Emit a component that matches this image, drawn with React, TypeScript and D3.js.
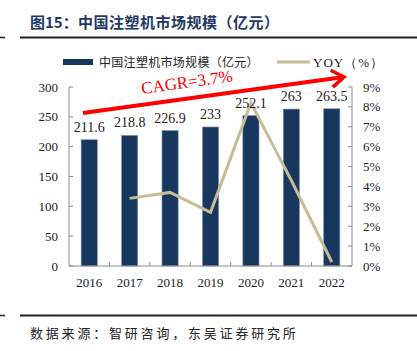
import React from 'react';
import * as d3 from 'd3';

// 数据
const years = ['2016', '2017', '2018', '2019', '2020', '2021', '2022'];
const marketSize = [211.6, 218.8, 226.9, 233, 252.1, 263, 263.5];
const yoy: (number | null)[] = [null, 3.4, 3.7, 2.7, 8.2, 4.3, 0.2];
const leftTicks = [0, 50, 100, 150, 200, 250, 300];
const rightTicks = [0, 1, 2, 3, 4, 5, 6, 7, 8, 9];

const titleHead = '图15：';
const title = '中国注塑机市场规模（亿元）';
const barLegend = '中国注塑机市场规模（亿元）';
const lineLegend = 'YOY（%）';
const cagrText = 'CAGR=3.7%';
const source = '数据来源：智研咨询，东吴证券研究所';

const width = 417;
const height = 351;
const margin = { top: 87, right: 65, bottom: 85, left: 69 };

const serif = '"Liberation Serif", "DejaVu Serif", serif';
const cjk = '"Noto Sans CJK SC", sans-serif';
const barColor = '#17375E';
const lineColor = '#C6BC96';
const axisColor = '#8c8c8c';

const App = () => {
    const x0 = margin.left;
    const x1 = width - margin.right;
    const yTop = margin.top;
    const yBottom = height - margin.bottom;

    const xScale = d3.scaleBand<string>()
        .domain(years)
        .range([x0, x1])
        .paddingInner(0.6)
        .paddingOuter(0.3);
    const yLeft = d3.scaleLinear().domain([0, 300]).range([yBottom, yTop]);
    const yRight = d3.scaleLinear().domain([0, 9]).range([yBottom, yTop]);

    const center = (d: string) => (xScale(d) as number) + xScale.bandwidth() / 2;

    const linePts = years
        .map((d, i) => ({ d, v: yoy[i] }))
        .filter(p => p.v !== null);
    const lineGen = d3.line<{ d: string; v: number | null }>()
        .x(p => center(p.d))
        .y(p => yRight(p.v as number));

    // CAGR 箭头
    const ax0 = 83, ay0 = 113, ax1 = 344, ay1 = 77;
    const ang = Math.atan2(ay1 - ay0, ax1 - ax0);
    const head = 15;
    const wing = (a: number) => [ax1 - head * Math.cos(ang + a), ay1 - head * Math.sin(ang + a)];
    const w1 = wing(0.6);
    const w2 = wing(-0.6);

    const step = xScale.step();

    return (
        <svg width={width} height={height} style={{ position: 'absolute', left: 0, top: 0, background: '#fff' }}>
            {/* 标题 */}
            <text x={30} y={28} fontFamily={cjk} fontWeight="bold" fontSize={15} fill="#1F3864">{titleHead}</text>
            <text x={78} y={28} fontFamily={cjk} fontWeight="bold" fontSize={15} fill="#1F3864" letterSpacing={0.5}>{title}</text>
            <line x1={0} x2={5} y1={37.5} y2={37.5} stroke="#222" strokeWidth={1.5} />
            <line x1={20} x2={width} y1={37.5} y2={37.5} stroke="#222" strokeWidth={2} />

            {/* 图例 */}
            <rect x={63} y={59} width={30} height={6} fill={barColor} />
            <text x={99} y={67} fontFamily={cjk} fontSize={12} fill="#222" letterSpacing={0.3}>{barLegend}</text>
            <line x1={277} x2={310} y1={62} y2={62} stroke={lineColor} strokeWidth={3} />
            <text x={313} y={67} fontFamily={serif} fontSize={13} fill="#222" letterSpacing={1}>{lineLegend}</text>

            {/* 柱子 */}
            {years.map((d, i) => (
                <rect key={d} x={xScale(d)} y={yLeft(marketSize[i])}
                    width={xScale.bandwidth()} height={yBottom - yLeft(marketSize[i])}
                    fill={barColor} stroke="#7f93ab" strokeWidth={0.6} />
            ))}

            {/* 坐标轴 */}
            <line x1={x0} x2={x0} y1={yTop} y2={yBottom} stroke={axisColor} />
            <line x1={x1} x2={x1} y1={yTop} y2={yBottom} stroke={axisColor} />
            <line x1={x0} x2={x1} y1={yBottom} y2={yBottom} stroke={axisColor} />
            {leftTicks.map(t => (
                <g key={'l' + t}>
                    <line x1={x0} x2={x0 + 4} y1={yLeft(t)} y2={yLeft(t)} stroke={axisColor} />
                    <text x={58} y={yLeft(t) + 4.5} textAnchor="end" fontFamily={serif} fontSize={13} fill="#222">{t}</text>
                </g>
            ))}
            {rightTicks.map(t => (
                <g key={'r' + t}>
                    <line x1={x1 - 4} x2={x1} y1={yRight(t)} y2={yRight(t)} stroke={axisColor} />
                    <text x={363} y={yRight(t) + 4.5} fontFamily={serif} fontSize={13} fill="#222">{t + '%'}</text>
                </g>
            ))}
            {years.slice(1).map((d, i) => (
                <line key={'xt' + d} x1={x0 + step * (i + 1)} x2={x0 + step * (i + 1)}
                    y1={yBottom} y2={yBottom - 4} stroke={axisColor} />
            ))}
            {years.map(d => (
                <text key={'x' + d} x={center(d)} y={287} textAnchor="middle" fontFamily={serif} fontSize={13} fill="#222">{d}</text>
            ))}

            {/* YOY 折线 */}
            <path d={lineGen(linePts) || ''} fill="none" stroke={lineColor} strokeWidth={3} />

            {/* 数值标签 */}
            {years.map((d, i) => (
                <text key={'v' + d} x={center(d)} y={yLeft(marketSize[i]) - 8} textAnchor="middle"
                    fontFamily={serif} fontSize={14} fill="#222">{marketSize[i]}</text>
            ))}

            {/* CAGR */}
            <line x1={ax0} y1={ay0} x2={ax1 - 2} y2={ay1 + 0.3} stroke="#FF0000" strokeWidth={4} />
            <polyline points={`${w1[0]},${w1[1]} ${ax1},${ay1} ${w2[0]},${w2[1]}`}
                fill="none" stroke="#FF0000" strokeWidth={3.5} strokeLinejoin="miter" />
            <text x={142} y={94} fontFamily={serif} fontSize={17} fill="#FF0000"
                transform={`rotate(${(ang * 180) / Math.PI} 142 94)`}>{cagrText}</text>

            {/* 底部 */}
            <line x1={0} x2={5} y1={315.5} y2={315.5} stroke="#222" strokeWidth={1.5} />
            <line x1={20} x2={width} y1={315.5} y2={315.5} stroke="#222" strokeWidth={2} />
            <text x={30} y={338} fontFamily={cjk} fontSize={13} fill="#222" letterSpacing={2.8}>{source}</text>
        </svg>
    );
};

export default App;
